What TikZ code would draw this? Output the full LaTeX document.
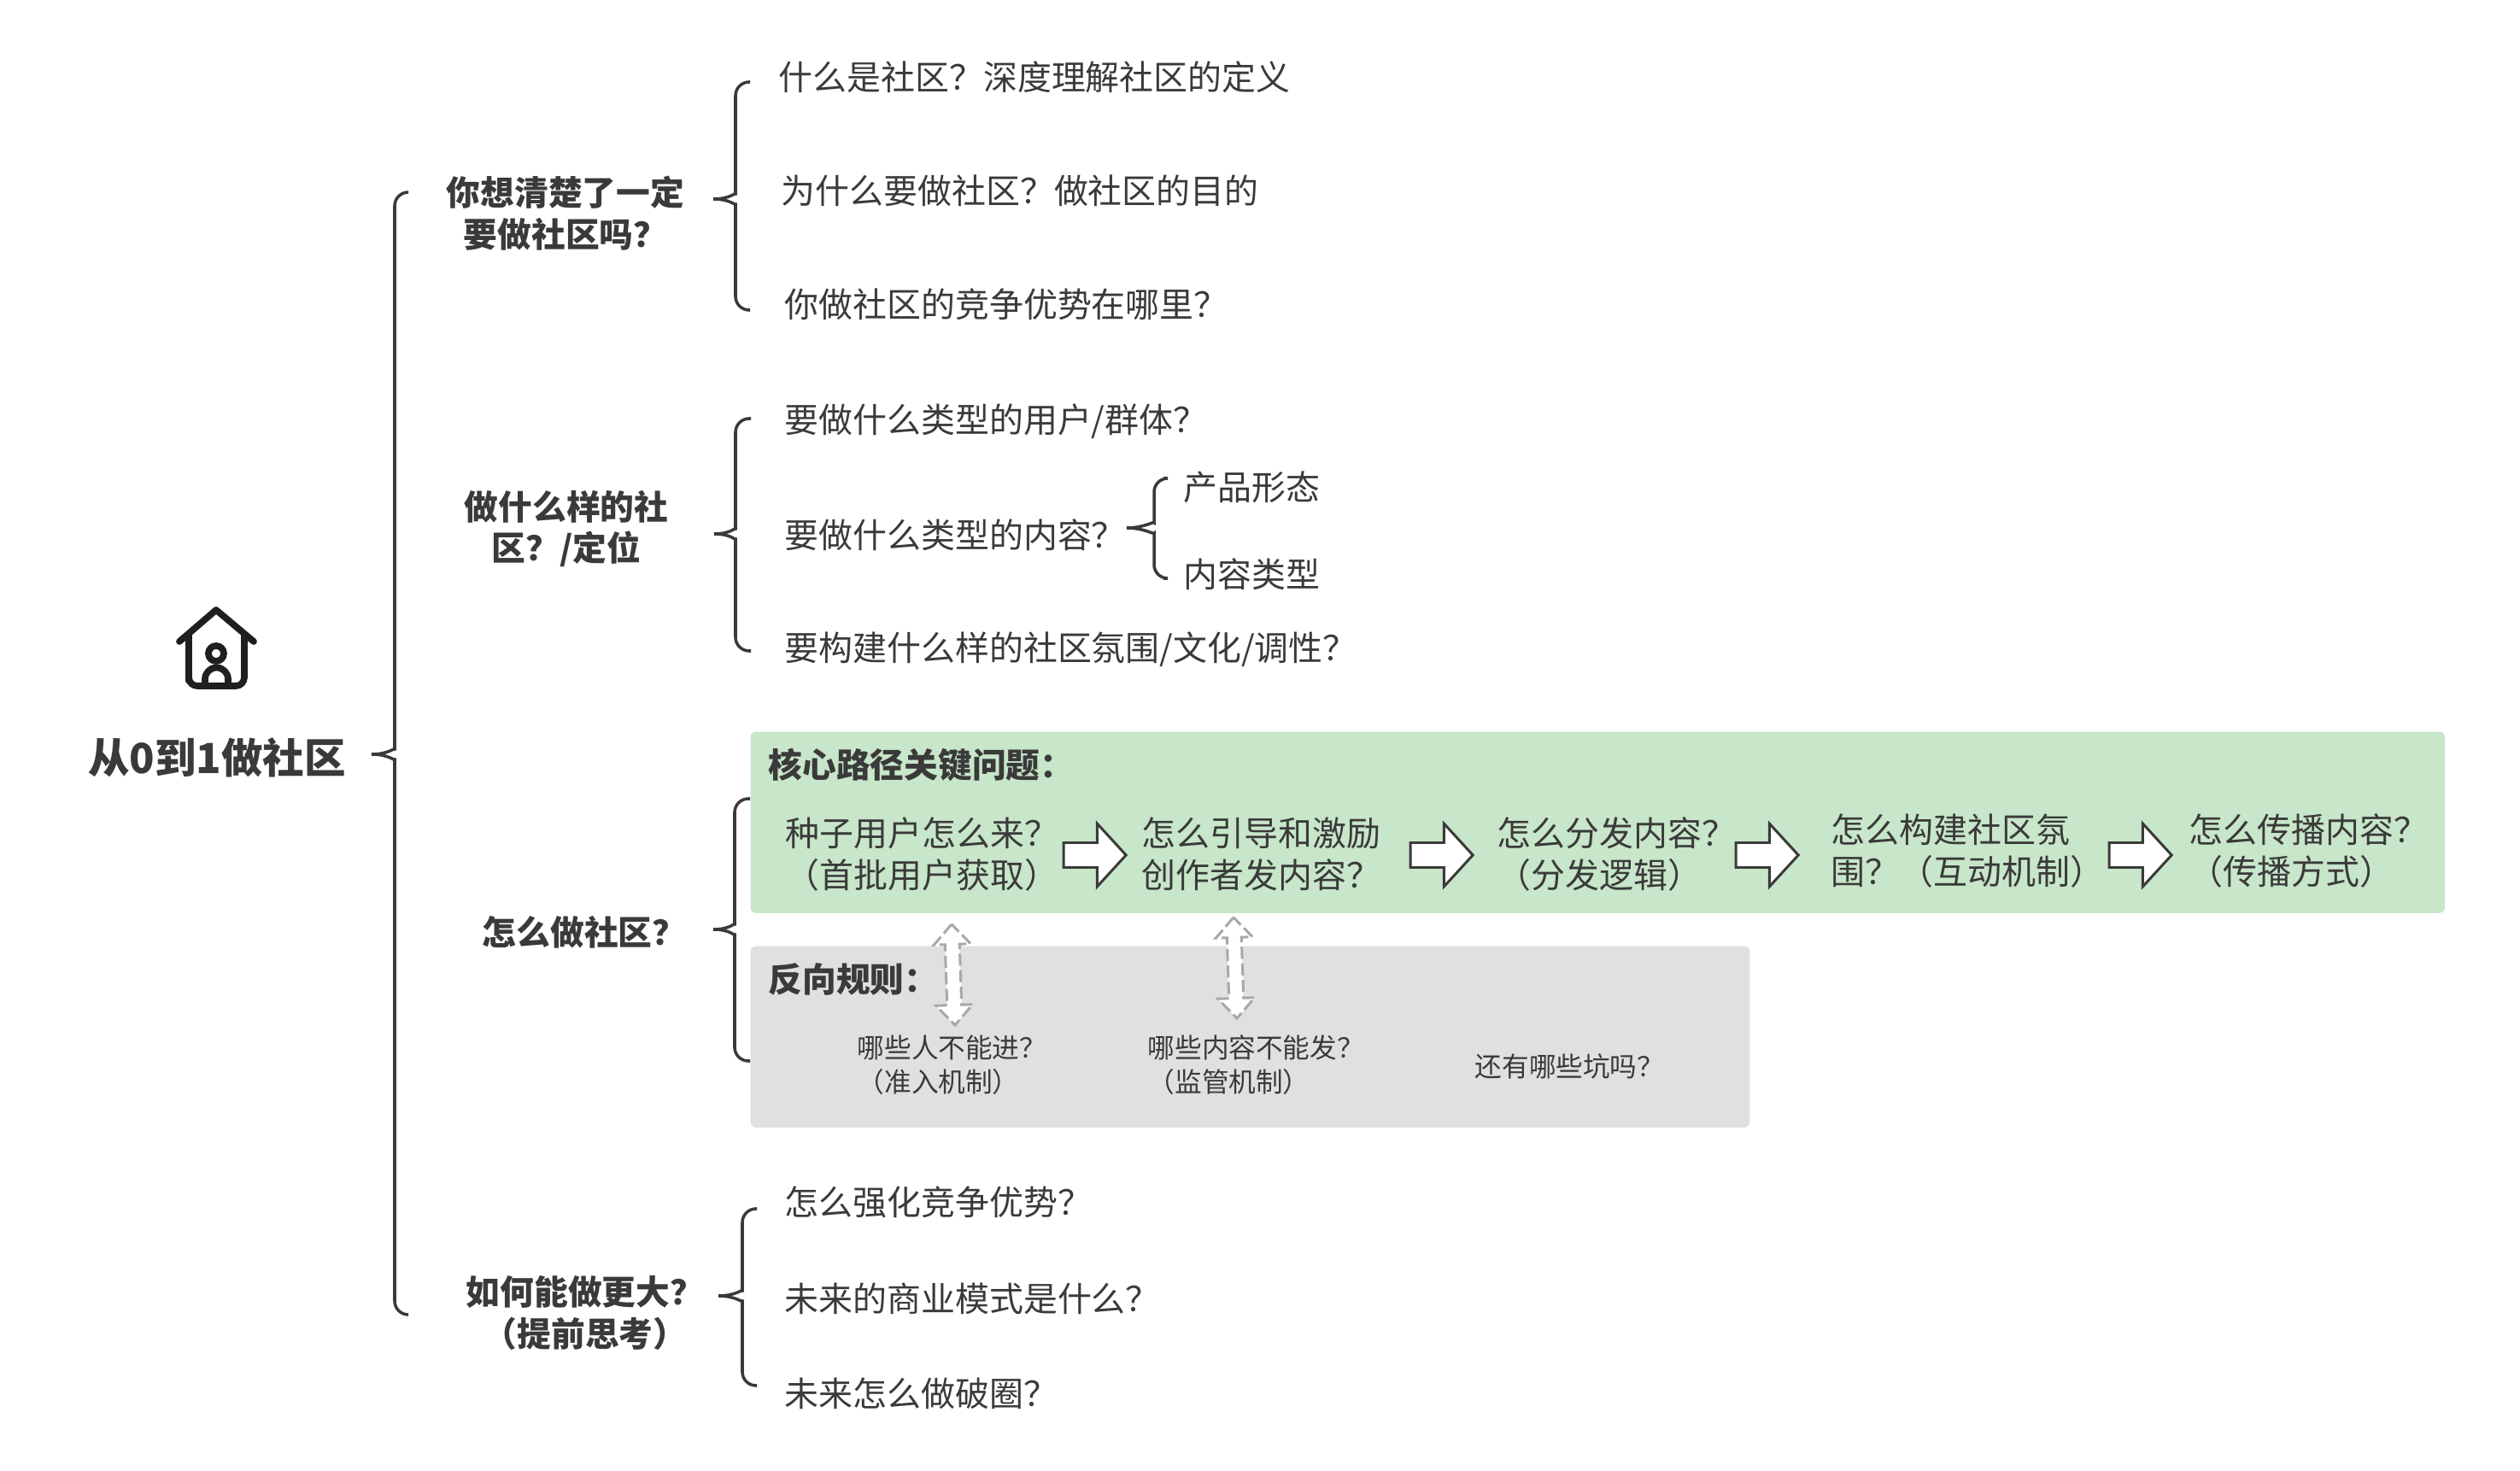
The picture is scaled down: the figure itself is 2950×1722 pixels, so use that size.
\documentclass[tikz,border=0pt]{standalone}
\usepackage{fontspec}
\usepackage{xcolor,tikz}
\usetikzlibrary{arrows.meta,positioning,shapes.arrows}
\setmainfont{Noto Sans CJK SC}
\definecolor{ink}{HTML}{3A3A3A}
\definecolor{iconink}{HTML}{1F1F1F}
\definecolor{corefill}{HTML}{C8E6C9}
\definecolor{rulefill}{HTML}{E0E0E0}
\definecolor{dashink}{HTML}{A8A8A8}

\begin{document}
\begin{tikzpicture}[x=.01cm,y=-.01cm,
  rt/.style={font=\fontsize{13.8}{18}\selectfont\bfseries,text=ink,inner sep=0pt},
  tt/.style={font=\fontsize{11.3}{13.9}\selectfont\bfseries,text=ink,inner sep=0pt,align=center},
  hd/.style={font=\fontsize{11.3}{13.9}\selectfont\bfseries,text=ink,inner sep=0pt,anchor=west},
  lf/.style={font=\fontsize{11.35}{13.9}\selectfont,text=ink,inner sep=0pt,anchor=west,align=left},
  sm/.style={font=\fontsize{9}{11.4}\selectfont,text=ink,inner sep=0pt,anchor=west,align=left},
  pnl/.style={rounded corners=.6mm,inner sep=0pt,anchor=north west},
  ar/.style={single arrow,draw=ink,fill=white,line width=.85pt,inner xsep=0pt,inner ysep=.13cm,
    single arrow head extend=.225cm,single arrow tip angle=95,minimum height=.73cm},
  dar/.style={double arrow,draw=dashink,fill=white,dash pattern=on 4pt off 1.5pt,line width=.85pt,inner xsep=0pt,inner ysep=.07cm,
    double arrow head extend=.13cm,double arrow tip angle=85,minimum height=1.18cm,rotate=#1},
  br/.style={draw=ink,line width=1pt,rounded corners=1.6mm},
  up/.style={to path={.. controls +(20,0) and +(0,14) .. ++(#1,-22) |- (\tikztotarget)}},
  dn/.style={to path={.. controls +(20,0) and +(0,-14) .. ++(#1,22) |- (\tikztotarget)}}]
  \useasboundingbox (0,0) rectangle (2950,1722);
  % panels
  \node[pnl,fill=corefill,minimum width=19.82cm,minimum height=2.12cm] (core) at (878,856) {};
  \node[pnl,fill=rulefill,minimum width=11.69cm,minimum height=2.12cm] (rule) at (878,1107) {};
  % root and icon
  \node[rt] (root) at (254,887) {从0到1做社区};
  \draw[iconink,line width=2.2pt,line cap=round,line join=round]
    (210,751) -- (253,714) -- (297,751)
    (221,742) -- (221,797) [rounded corners=1mm] -- (221,803) -- (286,803) [sharp corners] -- (286,742)
    (240,802) -- (240,795) arc (180:360:13.5) -- (267,802);
  \draw[iconink,line width=2.2pt] (253,765) circle (9);
  % first level
  \node[tt] (want) at (662,250) {你想清楚了一定\\要做社区吗^^^^ff1f};
  \node[tt] (kind) at (663,619) {做什么样的社\\区^^^^ff1f/定位};
  \node[tt] (how) at (684,1091) {怎么做社区^^^^ff1f};
  \node[tt] (more) at (685,1537) {如何能做更大^^^^ff1f\\^^^^ff08提前思考^^^^ff09};
  % leaves
  \node[lf] (wa) at (911,90) {什么是社区^^^^ff1f深度理解社区的定义};
  \node[lf] (wb) at (914,223) {为什么要做社区^^^^ff1f做社区的目的};
  \node[lf] (wc) at (918,356) {你做社区的竞争优势在哪里^^^^ff1f};
  \node[lf] (ka) at (918,493) {要做什么类型的用户/群体^^^^ff1f};
  \node[lf] (kb) at (918,626) {要做什么类型的内容^^^^ff1f};
  \node[lf] (kba) at (1385,570) {产品形态};
  \node[lf] (kbb) at (1385,672) {内容类型};
  \node[lf] (kc) at (918,760) {要构建什么样的社区氛围/文化/调性^^^^ff1f};
  \node[lf] (ma) at (918,1407) {怎么强化竞争优势^^^^ff1f};
  \node[lf] (mb) at (918,1520) {未来的商业模式是什么^^^^ff1f};
  \node[lf] (mc) at (918,1631) {未来怎么做破圈^^^^ff1f};
  % core path
  \node[hd] (corehd) at (899,895) {核心路径关键问题^^^^ff1a};
  \node[lf] (p1) at (919,1000) {种子用户怎么来^^^^ff1f\\^^^^ff08首批用户获取^^^^ff09};
  \node[lf] (p2) at (1336,1000) {怎么引导和激励\\创作者发内容^^^^ff1f};
  \node[lf] (p3) at (1752,1000) {怎么分发内容^^^^ff1f\\^^^^ff08分发逻辑^^^^ff09};
  \node[lf] (p4) at (2143,996) {怎么构建社区氛\\围^^^^ff1f^^^^ff08互动机制^^^^ff09};
  \node[lf] (p5) at (2562,996) {怎么传播内容^^^^ff1f\\^^^^ff08传播方式^^^^ff09};
  \node[ar] (a1) at (1275,1001) {};
  \node[ar] (a2) at (1681,1001) {};
  \node[ar] (a3) at (2062,1001) {};
  \node[ar] (a4) at (2499,1001) {};
  % reverse rules
  \node[hd] (rulehd) at (899,1146) {反向规则^^^^ff1a};
  \node[sm] (r1) at (1003,1247) {哪些人不能进^^^^ff1f\\^^^^ff08准入机制^^^^ff09};
  \node[sm] (r2) at (1343,1247) {哪些内容不能发^^^^ff1f\\^^^^ff08监管机制^^^^ff09};
  \node[sm] (r3) at (1726,1248) {还有哪些坑吗^^^^ff1f};
  \node[dar=92] (d1) at (1116,1141) {};
  \node[dar=92] (d2) at (1446,1133) {};
  % braces
  \coordinate (t0) at (435,883);
  \coordinate (t0a) at (478,225);
  \coordinate (t0b) at (478,1539);
  \coordinate (t1) at (835,233);
  \coordinate (t1a) at (878,96);
  \coordinate (t1b) at (878,363);
  \coordinate (t2) at (836,625);
  \coordinate (t2a) at (879,490);
  \coordinate (t2b) at (879,762);
  \coordinate (t3) at (1319,618);
  \coordinate (t3a) at (1362,560);
  \coordinate (t3b) at (1362,677);
  \coordinate (t4) at (835,1088);
  \coordinate (t4a) at (878,935);
  \coordinate (t4b) at (878,1242);
  \coordinate (t5) at (841,1517);
  \coordinate (t5a) at (886,1415);
  \coordinate (t5b) at (886,1622);
  \draw[br,up=27] (t0) to (t0a);\draw[br,dn=27] (t0) to (t0b);
  \draw[br,up=26] (t1) to (t1a);\draw[br,dn=26] (t1) to (t1b);
  \draw[br,up=25] (t2) to (t2a);\draw[br,dn=25] (t2) to (t2b);
  \draw[br,up=32] (t3) to (t3a);\draw[br,dn=32] (t3) to (t3b);
  \draw[br,up=25] (t4) to (t4a);\draw[br,dn=25] (t4) to (t4b);
  \draw[br,up=28] (t5) to (t5a);\draw[br,dn=28] (t5) to (t5b);
\end{tikzpicture}
\end{document}
